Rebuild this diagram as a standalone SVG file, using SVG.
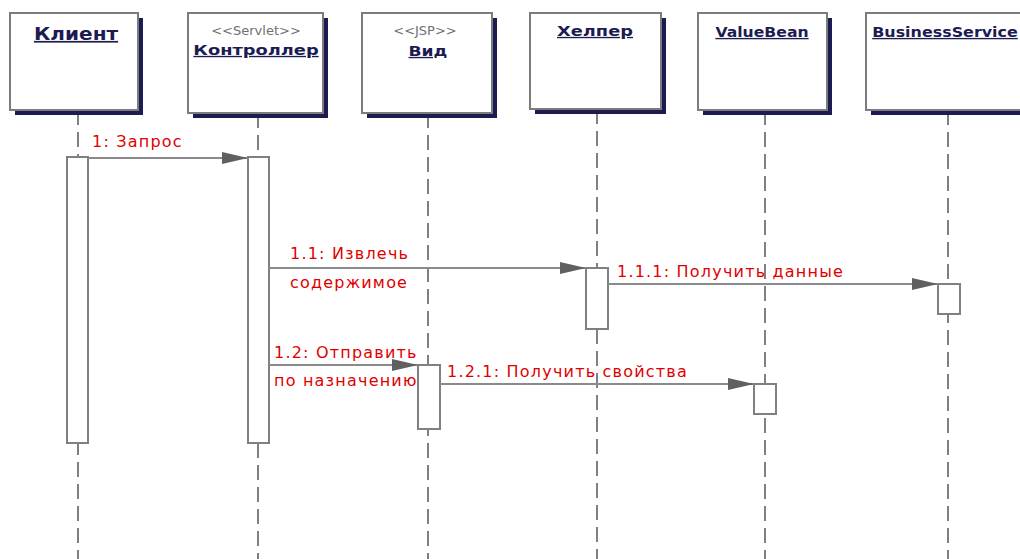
<svg xmlns="http://www.w3.org/2000/svg" width="1020" height="559" viewBox="0 0 1020 559">
<style>
.shadow{fill:#1c1c52}
.box{fill:#fff;stroke:#7c7c7c;stroke-width:2}
.title{font-family:"DejaVu Sans",Verdana,sans-serif;font-weight:bold;font-size:13.5px;fill:#1c1c52;text-decoration:underline;text-anchor:middle}
.big{font-size:17px}
.stereo{font-family:"DejaVu Sans",Verdana,sans-serif;font-size:13px;fill:#707070;text-anchor:middle}
.life{stroke:#808080;stroke-width:2;stroke-dasharray:15 7;fill:none}
.bar{fill:#fff;stroke:#808080;stroke-width:2}
.msg{stroke:#8a8a8a;stroke-width:2;fill:none;marker-end:url(#ah)}
.lbl{font-family:"DejaVu Sans",Verdana,sans-serif;font-size:16px;fill:#e00000;letter-spacing:1.2px}
</style>
<defs>
<marker id="ah" markerUnits="userSpaceOnUse" markerWidth="27" markerHeight="14" refX="26" refY="7" orient="auto">
<path d="M0,1 L26,7 L0,13 Z" fill="#606060"/>
</marker>
</defs>
<rect width="1020" height="559" fill="#fff"/>
<g id="lifelines">
<line class="life" x1="78" y1="110" x2="78" y2="559"/>
<line class="life" x1="258" y1="113" x2="258" y2="559"/>
<line class="life" x1="428" y1="113" x2="428" y2="559"/>
<line class="life" x1="597" y1="109" x2="597" y2="559"/>
<line class="life" x1="765" y1="110" x2="765" y2="559"/>
<line class="life" x1="948" y1="110" x2="948" y2="559"/>
</g>
<g id="klient">
<rect class="shadow" x="15" y="18" width="128" height="97"/>
<rect class="box" x="10" y="13" width="128" height="97"/>
<text class="title big" transform="translate(76,40) scale(1.18,1)">Клиент</text>
<rect class="bar" x="67" y="157" width="21" height="286"/>
</g>
<g id="kontroller">
<rect class="shadow" x="193" y="18" width="135" height="100"/>
<rect class="box" x="188" y="13" width="135" height="100"/>
<text class="stereo" x="256" y="35">&lt;&lt;Servlet&gt;&gt;</text>
<text class="title" transform="translate(256,55) scale(1.32,1)">Контроллер</text>
<rect class="bar" x="248" y="157" width="21" height="286"/>
</g>
<g id="vid">
<rect class="shadow" x="367" y="18" width="130" height="100"/>
<rect class="box" x="362" y="13" width="130" height="100"/>
<text class="stereo" x="425" y="35">&lt;&lt;JSP&gt;&gt;</text>
<text class="title" transform="translate(428,56) scale(1.27,1)">Вид</text>
<rect class="bar" x="418" y="365" width="22" height="64"/>
</g>
<g id="helper">
<rect class="shadow" x="535" y="18" width="131" height="96"/>
<rect class="box" x="530" y="13" width="131" height="96"/>
<text class="title" transform="translate(595,36) scale(1.32,1)">Хелпер</text>
<rect class="bar" x="586" y="268" width="22" height="61"/>
</g>
<g id="valuebean">
<rect class="shadow" x="703" y="18" width="129" height="97"/>
<rect class="box" x="698" y="13" width="129" height="97"/>
<text class="title" transform="translate(762,37) scale(1.16,1)">ValueBean</text>
<rect class="bar" x="754" y="384" width="22" height="30"/>
</g>
<g id="businessservice">
<rect class="shadow" x="871" y="18" width="160" height="97"/>
<rect class="box" x="866" y="13" width="160" height="97"/>
<text class="title" transform="translate(945,37) scale(1.18,1)">BusinessService</text>
<rect class="bar" x="938" y="284" width="22" height="30"/>
</g>
<g id="messages">
<line class="msg" x1="88" y1="158" x2="248" y2="158"/>
<line class="msg" x1="269" y1="268" x2="586" y2="268"/>
<line class="msg" x1="608" y1="284" x2="938" y2="284"/>
<line class="msg" x1="269" y1="365" x2="418" y2="365"/>
<line class="msg" x1="440" y1="384" x2="754" y2="384"/>
<text class="lbl" x="92" y="147">1: Запрос</text>
<text class="lbl" x="290" y="259">1.1: Извлечь</text>
<text class="lbl" x="290" y="288">содержимое</text>
<text class="lbl" x="617" y="277">1.1.1: Получить данные</text>
<text class="lbl" x="274" y="358">1.2: Отправить</text>
<text class="lbl" x="274" y="386">по назначению</text>
<text class="lbl" x="447" y="377">1.2.1: Получить свойства</text>
</g>
</svg>
